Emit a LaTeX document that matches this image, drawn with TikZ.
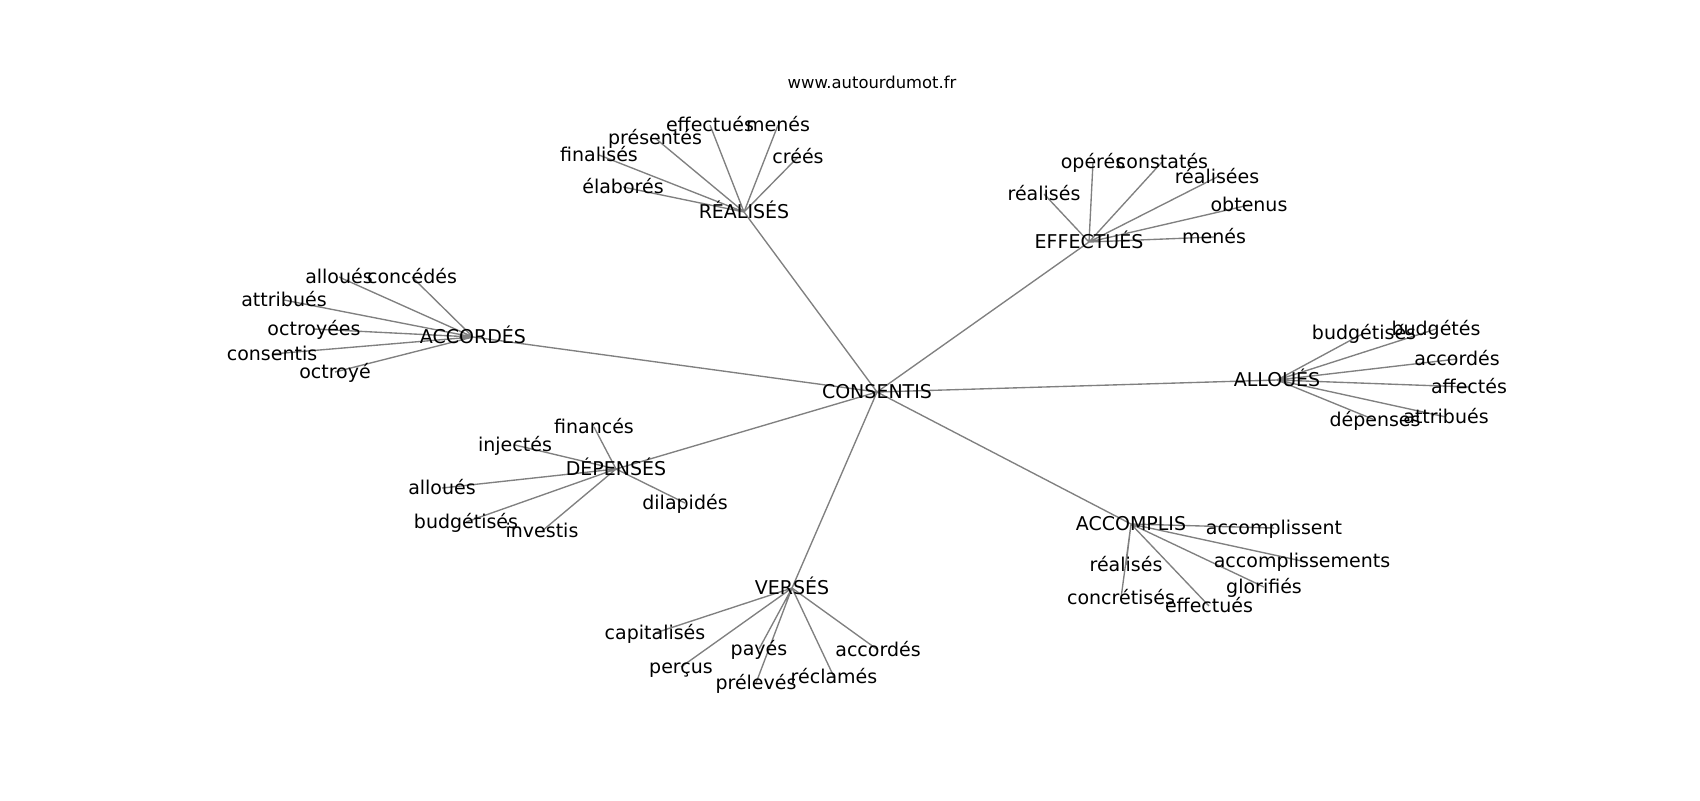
\documentclass[tikz,border=0pt]{standalone}
\usepackage{fontspec}
\setmainfont{DejaVu Sans}
\usetikzlibrary{backgrounds}
\tikzset{
  word/.style={inner sep=0pt, text height=6.9pt, text depth=0pt,
    font=\fontsize{9.5}{11}\selectfont},
  site/.style={inner sep=0pt, text height=6pt, text depth=0pt,
    font=\fontsize{8.2}{10}\selectfont},
  edge/.style={black!50, line width=0.68pt}
}
\begin{document}
\begin{tikzpicture}[x=0.5pt,y=-0.5pt]
\useasboundingbox (0,0) rectangle (1700,800);

\node[site] (site) at (872,82) {www.autourdumot.fr};

% centre et groupes
\node[word] (consentis) at (877,392) {CONSENTIS};
\node[word] (realises) at (744,212) {RÉALISÉS};
\node[word] (effectues) at (1089,242) {EFFECTUÉS};
\node[word] (accordes) at (473,337) {ACCORDÉS};
\node[word] (alloues) at (1277,380) {ALLOUÉS};
\node[word] (depenses) at (616,469) {DÉPENSÉS};
\node[word] (accomplis) at (1131,524) {ACCOMPLIS};
\node[word] (verses) at (792,588) {VERSÉS};

% RÉALISÉS
\node[word] (r-effectues) at (710,125) {effectués};
\node[word] (r-menes) at (778,125) {menés};
\node[word] (r-presentes) at (655,138) {présentés};
\node[word] (r-finalises) at (599,155) {finalisés};
\node[word] (r-elabores) at (623,187) {élaborés};
\node[word] (r-crees) at (798,157) {créés};

% EFFECTUÉS
\node[word] (e-operes) at (1093,162) {opérés};
\node[word] (e-constates) at (1162,162) {constatés};
\node[word] (e-realisees) at (1217,177) {réalisées};
\node[word] (e-realises) at (1044,194) {réalisés};
\node[word] (e-obtenus) at (1249,205) {obtenus};
\node[word] (e-menes) at (1214,237) {menés};

% ACCORDÉS
\node[word] (c-alloues) at (339,277) {alloués};
\node[word] (c-concedes) at (412,277) {concédés};
\node[word] (c-attribues) at (284,300) {attribués};
\node[word] (c-octroyees) at (314,329) {octroyées};
\node[word] (c-consentis) at (272,354) {consentis};
\node[word] (c-octroye) at (335,372) {octroyé};

% ALLOUÉS
\node[word] (a-budgetises) at (1364,333) {budgétisés};
\node[word] (a-budgetes) at (1436,329) {budgétés};
\node[word] (a-accordes) at (1457,359) {accordés};
\node[word] (a-affectes) at (1469,387) {affectés};
\node[word] (a-attribues) at (1446,417) {attribués};
\node[word] (a-depenses) at (1375,420) {dépenses};

% DÉPENSÉS
\node[word] (d-finances) at (594,427) {financés};
\node[word] (d-injectes) at (515,445) {injectés};
\node[word] (d-alloues) at (442,488) {alloués};
\node[word] (d-budgetises) at (466,522) {budgétisés};
\node[word] (d-investis) at (542,531) {investis};
\node[word] (d-dilapides) at (685,503) {dilapidés};

% ACCOMPLIS
\node[word] (p-accomplissent) at (1274,528) {accomplissent};
\node[word] (p-accomplissements) at (1302,561) {accomplissements};
\node[word] (p-glorifies) at (1264,587) {glorifiés};
\node[word] (p-realises) at (1126,565) {réalisés};
\node[word] (p-concretises) at (1121,598) {concrétisés};
\node[word] (p-effectues) at (1209,606) {effectués};

% VERSÉS
\node[word] (v-capitalises) at (655,633) {capitalisés};
\node[word] (v-payes) at (759,649) {payés};
\node[word] (v-accordes) at (878,650) {accordés};
\node[word] (v-percus) at (681,667) {perçus};
\node[word] (v-preleves) at (756,683) {prélevés};
\node[word] (v-reclames) at (834,677) {réclamés};

\begin{pgfonlayer}{background}
\draw[edge]
(consentis.center) -- (realises.center)
(consentis.center) -- (effectues.center)
(consentis.center) -- (accordes.center)
(consentis.center) -- (alloues.center)
(consentis.center) -- (depenses.center)
(consentis.center) -- (accomplis.center)
(consentis.center) -- (verses.center);
\draw[edge]
(realises.center) -- (r-effectues.center)
(realises.center) -- (r-menes.center)
(realises.center) -- (r-presentes.center)
(realises.center) -- (r-finalises.center)
(realises.center) -- (r-elabores.center)
(realises.center) -- (r-crees.center);
\draw[edge]
(effectues.center) -- (e-operes.center)
(effectues.center) -- (e-constates.center)
(effectues.center) -- (e-realisees.center)
(effectues.center) -- (e-realises.center)
(effectues.center) -- (e-obtenus.center)
(effectues.center) -- (e-menes.center);
\draw[edge]
(accordes.center) -- (c-alloues.center)
(accordes.center) -- (c-concedes.center)
(accordes.center) -- (c-attribues.center)
(accordes.center) -- (c-octroyees.center)
(accordes.center) -- (c-consentis.center)
(accordes.center) -- (c-octroye.center);
\draw[edge]
(alloues.center) -- (a-budgetises.center)
(alloues.center) -- (a-budgetes.center)
(alloues.center) -- (a-accordes.center)
(alloues.center) -- (a-affectes.center)
(alloues.center) -- (a-attribues.center)
(alloues.center) -- (a-depenses.center);
\draw[edge]
(depenses.center) -- (d-finances.center)
(depenses.center) -- (d-injectes.center)
(depenses.center) -- (d-alloues.center)
(depenses.center) -- (d-budgetises.center)
(depenses.center) -- (d-investis.center)
(depenses.center) -- (d-dilapides.center);
\draw[edge]
(accomplis.center) -- (p-accomplissent.center)
(accomplis.center) -- (p-accomplissements.center)
(accomplis.center) -- (p-glorifies.center)
(accomplis.center) -- (p-realises.center)
(accomplis.center) -- (p-concretises.center)
(accomplis.center) -- (p-effectues.center);
\draw[edge]
(verses.center) -- (v-capitalises.center)
(verses.center) -- (v-payes.center)
(verses.center) -- (v-accordes.center)
(verses.center) -- (v-percus.center)
(verses.center) -- (v-preleves.center)
(verses.center) -- (v-reclames.center);
\end{pgfonlayer}
\end{tikzpicture}
\end{document}
